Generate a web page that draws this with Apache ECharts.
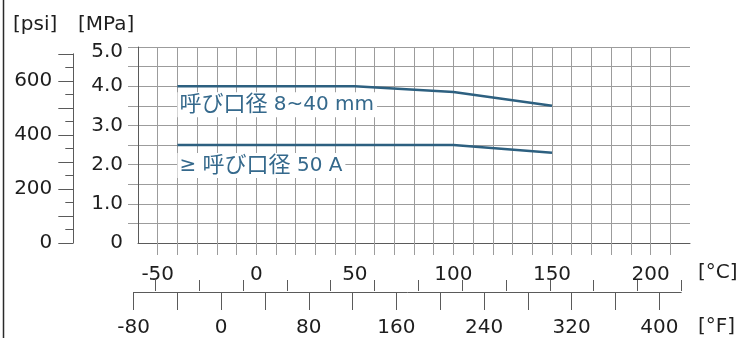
<!DOCTYPE html>
<html>
<head>
<meta charset="utf-8">
<script src="https://cdn.jsdelivr.net/npm/echarts@6/dist/echarts.min.js"></script>
<style>
  html, body { margin: 0; padding: 0; background: #fff; }
  #chart { width: 738px; height: 338px; }
</style>
</head>
<body>
<div id="chart"></div>
<script>
// pressure / temperature rating
var tempC = [-40, 50, 100, 150];
var smallBore = [4.0, 4.0, 3.85, 3.5];   // 呼び口径 8~40 mm
var largeBore = [2.5, 2.5, 2.5, 2.3];    // ≥ 呼び口径 50 A

var cLabels = [-50, 0, 50, 100, 150, 200];
var fLabels = [-80, 0, 80, 160, 240, 320, 400];
var mpaLabels = [0, 1, 2, 3, 4, 5];
var psiLabels = [0, 200, 400, 600];

var font = '"DejaVu Sans", "Noto Sans CJK JP", sans-serif';
var textColor = '#1e1e1e';
var lineColor = '#2d6080';
var gridColor = '#9c9c9c';
var axisColor = '#5a5a5a';

// tick lists
var cTicks = [], mpaTicks = [], fLong = [], fShort = [], psiLong = [], psiShort = [];
for (var c = -50; c <= 210; c += 10) cTicks.push(c);
for (var m = 0.5; m <= 5.001; m += 0.5) mpaTicks.push(+m.toFixed(1));
for (var f = -80; f <= 400; f += 40) fLong.push(f);
for (var f2 = -60; f2 <= 420; f2 += 40) fShort.push(f2);
for (var p = 0; p <= 700; p += 100) psiLong.push(p);
for (var p2 = 50; p2 <= 650; p2 += 100) psiShort.push(p2);

function pairs(xs, ys) {
    return xs.map(function (x, i) { return [x, ys[i]]; });
}

var chart = echarts.init(document.getElementById('chart'));

var labelStyle = {
    show: true,
    position: [0, 6],
    color: '#35698c',
    fontFamily: font,
    fontSize: 20,
    backgroundColor: '#fff',
    padding: [2, 3, 1, 2],
    rich: {
        c: { fontFamily: font, fontSize: 22, color: '#35698c' }
    }
};

var option = {
    animation: false,
    textStyle: { fontFamily: font, color: textColor },
    grid: [
        { left: 138, top: 47, width: 552, height: 196 },          // main
        { left: 133.6, top: 291, width: 547.6, height: 1 },       // °F scale
        { left: 73.3, top: 53.8, width: 1, height: 189.2 }        // psi scale
    ],
    xAxis: [
        {
            gridIndex: 0, type: 'value', min: -60, max: 220, interval: 10,
            axisLine: { onZero: false, lineStyle: { color: axisColor, width: 1 } },
            axisTick: { customValues: cTicks, length: 12, lineStyle: { color: gridColor } },
            axisLabel: { customValues: cLabels, margin: 22, fontSize: 20, color: textColor, fontFamily: font },
            splitLine: { show: true, lineStyle: { color: gridColor, width: 1 } }
        },
        {
            gridIndex: 1, type: 'value', min: -80, max: 420,
            axisLine: { onZero: false, lineStyle: { color: axisColor, width: 1 } },
            axisTick: { customValues: fLong, length: 18, lineStyle: { color: axisColor } },
            axisLabel: { customValues: fLabels, margin: 26, fontSize: 20, color: textColor, fontFamily: font },
            splitLine: { show: false }
        },
        {
            gridIndex: 1, type: 'value', min: -80, max: 420,
            axisLine: { show: false, onZero: false },
            axisTick: { customValues: fShort, length: 11, lineStyle: { color: axisColor } },
            axisLabel: { show: false },
            splitLine: { show: false }
        },
        { gridIndex: 2, type: 'value', show: false, min: 0, max: 1 }
    ],
    yAxis: [
        {
            gridIndex: 0, type: 'value', min: 0, max: 5, interval: 0.5,
            axisLine: { show: true, onZero: false, lineStyle: { color: axisColor, width: 1 } },
            axisTick: { show: true, customValues: mpaTicks, length: 10, lineStyle: { color: gridColor } },
            axisLabel: {
                customValues: mpaLabels, margin: 15, fontSize: 20, color: textColor, fontFamily: font,
                formatter: function (v) {
                    if (v === 0) return '0';
                    if (v === 5) return '{top|5.0}';
                    return v.toFixed(1);
                },
                rich: { top: { fontSize: 20, fontFamily: font, color: textColor, padding: [9, 0, 0, 0] } }
            },
            splitLine: { show: true, lineStyle: { color: gridColor, width: 1 } }
        },
        {
            gridIndex: 2, type: 'value', min: 0, max: 700, position: 'left',
            axisLine: { show: true, onZero: false, lineStyle: { color: axisColor, width: 1 } },
            axisTick: { show: true, customValues: psiLong, length: 15, lineStyle: { color: axisColor } },
            axisLabel: { customValues: psiLabels, margin: 21, fontSize: 20, color: textColor, fontFamily: font },
            splitLine: { show: false }
        },
        {
            gridIndex: 2, type: 'value', min: 0, max: 700, position: 'left',
            axisLine: { show: false, onZero: false },
            axisTick: { show: true, customValues: psiShort, length: 8, lineStyle: { color: axisColor } },
            axisLabel: { show: false },
            splitLine: { show: false }
        },
        { gridIndex: 1, type: 'value', show: false, min: 0, max: 1 }
    ],
    series: [
        {
            name: '呼び口径 8~40 mm',
            type: 'line', xAxisIndex: 0, yAxisIndex: 0,
            data: pairs(tempC, smallBore),
            symbol: 'none',
            lineStyle: { color: lineColor, width: 2.5 },
            markPoint: {
                symbol: 'rect', symbolSize: 0,
                data: [{ coord: [tempC[0], smallBore[0]],
                    label: Object.assign({}, labelStyle, { formatter: '{c|呼び口径} 8~40 mm' }) }]
            }
        },
        {
            name: '≥ 呼び口径 50 A',
            type: 'line', xAxisIndex: 0, yAxisIndex: 0,
            data: pairs(tempC, largeBore),
            symbol: 'none',
            lineStyle: { color: lineColor, width: 2.5 },
            markPoint: {
                symbol: 'rect', symbolSize: 0,
                data: [{ coord: [tempC[0], largeBore[0]],
                    label: Object.assign({}, labelStyle, { position: [0, 8], formatter: '≥ {c|呼び口径} 50 A' }) }]
            }
        }
    ],
    graphic: [
        { type: 'line', shape: { x1: 3.5, y1: 0, x2: 3.5, y2: 338 }, style: { stroke: '#2a2a2a', lineWidth: 1.5 } },
        { type: 'text', left: 13, top: 15, style: { text: '[psi]', font: '20px ' + font, fill: textColor } },
        { type: 'text', left: 78, top: 15, style: { text: '[MPa]', font: '20px ' + font, fill: textColor } },
        { type: 'text', left: 698, top: 263, style: { text: '[°C]', font: '20px ' + font, fill: textColor } },
        { type: 'text', left: 698, top: 317, style: { text: '[°F]', font: '20px ' + font, fill: textColor } }
    ]
};

chart.setOption(option);
</script>
</body>
</html>
